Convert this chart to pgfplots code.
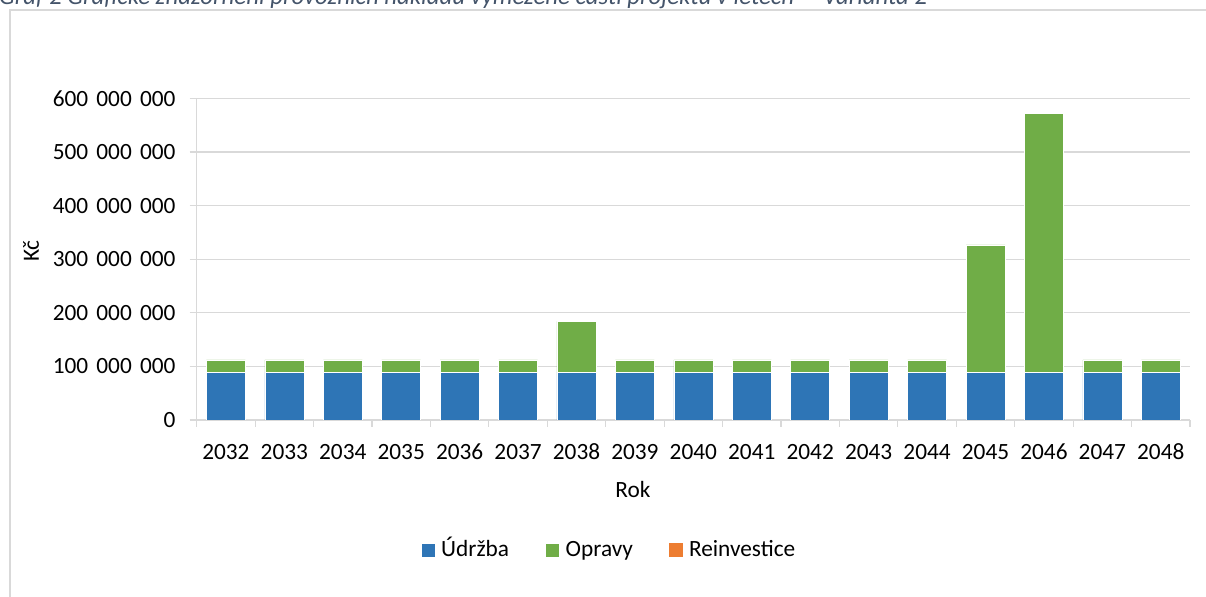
\documentclass[border=0pt]{standalone}
\usepackage{fontspec}
\setmainfont{Carlito}
\usepackage{pgfplots}
\usepackage{pgfplotstable}
\pgfplotsset{compat=1.18}
\definecolor{cBlue}{HTML}{2E75B6}
\definecolor{cGreen}{HTML}{70AD47}
\definecolor{cOrange}{HTML}{ED7D31}
\definecolor{cGrid}{HTML}{D9D9D9}
\definecolor{cTitle}{HTML}{44546A}
\newcommand{\cf}{\fontsize{23.3bp}{28bp}\selectfont}
\newcommand{\gs}{\hspace{8.2bp}}

\pgfplotstableread{
rok udrzba opravy reinv
2032 88700000 23500000 0
2033 88700000 23500000 0
2034 88700000 23500000 0
2035 88700000 23500000 0
2036 88700000 23500000 0
2037 88700000 23500000 0
2038 88700000 95300000 0
2039 88700000 23500000 0
2040 88700000 23500000 0
2041 88700000 23500000 0
2042 88700000 23500000 0
2043 88700000 23500000 0
2044 88700000 23500000 0
2045 88700000 237800000 0
2046 88700000 483300000 0
2047 88700000 23500000 0
2048 88700000 23500000 0
}\datatable

\begin{document}
\begin{tikzpicture}
\path[use as bounding box] (0,0) rectangle (1206bp,597bp);
\clip (0,0) rectangle (1206bp,597bp);
\draw[cGrid, line width=2bp] (10bp,0) -- (10bp,587bp) -- (1206bp,587bp);
\node[overlay, anchor=base west, inner sep=0pt, text=cTitle, font=\fontsize{24.8bp}{30bp}\selectfont\itshape] at (-1bp,592bp)
  {Graf 2 Grafické znázornění provozních nákladů vymezené části projektu v letech~ – Varianta 2};
\begin{axis}[
  at={(196.7bp,177bp)}, anchor=south west,
  scale only axis, width=993.3bp, height=321.7bp,
  ybar stacked, bar width=39bp,
  xmin=-0.5, xmax=16.5, ymin=0, ymax=600000000,
  scaled y ticks=false,
  xtick={0,...,16},
  xticklabels={2032,2033,2034,2035,2036,2037,2038,2039,2040,2041,2042,2043,2044,2045,2046,2047,2048},
  minor xtick={-0.5,0.5,...,16.5},
  major x tick style={draw=none},
  tick align=outside,
  major tick length=7bp, minor tick length=7bp,
  ytick={0,100000000,200000000,300000000,400000000,500000000,600000000},
  yticklabels={0,100\gs000\gs000,200\gs000\gs000,300\gs000\gs000,400\gs000\gs000,500\gs000\gs000,600\gs000\gs000},
  ymajorgrids,
  grid style={cGrid, line width=1.2bp},
  axis x line*=bottom, axis y line*=left,
  axis line style={cGrid, line width=1.2bp},
  tick style={cGrid, line width=1.2bp},
  xticklabel style={font=\cf, anchor=base, inner sep=0pt, yshift=-32bp},
  yticklabel style={font=\cf, anchor=east, inner sep=0pt, xshift=-14bp},
  legend columns=3,
  legend style={at={(0.414,-0.404)}, anchor=center, draw=none, fill=none, font=\cf,
    nodes={inner sep=0pt, text height=14bp, text depth=0bp},
    /tikz/every odd column/.append style={column sep=6bp},
    /tikz/every even column/.append style={column sep=36bp}},
  legend image code/.code={\fill[#1] (0bp,-7bp) rectangle (14bp,7bp);},
]
\addplot[fill=cBlue, draw=white, line width=0.6bp] table[x expr=\coordindex, y=udrzba] {\datatable};
\addplot[fill=cGreen, draw=white, line width=0.6bp] table[x expr=\coordindex, y=opravy] {\datatable};
\addplot[fill=cOrange, draw=none] table[x expr=\coordindex, y=reinv] {\datatable};
\legend{Údržba, Opravy, Reinvestice}
\end{axis}
\node[anchor=base, inner sep=0pt, font=\cf] at (633bp,99bp) {Rok};
\node[anchor=center, inner sep=0pt, font=\cf, rotate=90] at (31bp,346bp) {Kč};
\end{tikzpicture}
\end{document}
